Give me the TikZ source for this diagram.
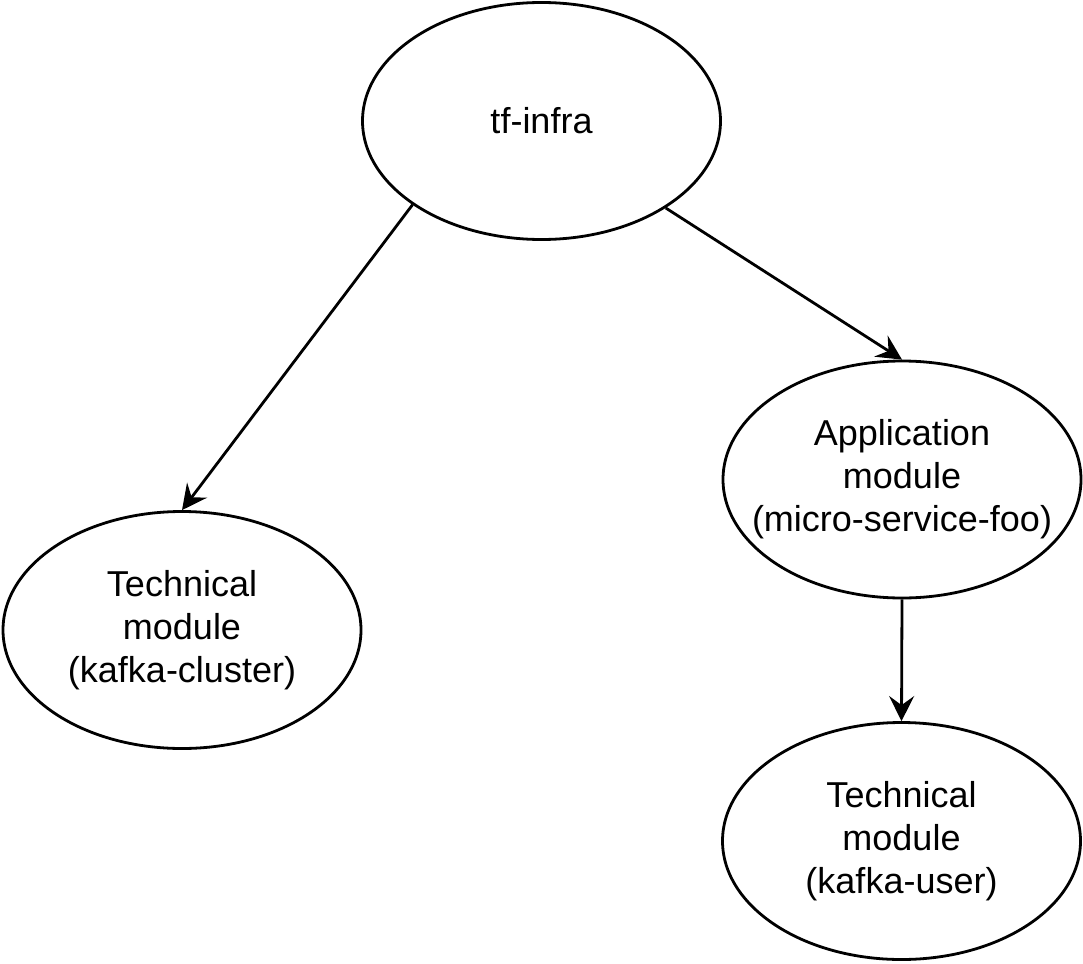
\documentclass[tikz,border=0pt]{standalone}
\usepackage{fontspec}
\setmainfont{Liberation Sans}
\usetikzlibrary{shapes.geometric,arrows.meta}
\begin{document}
\begin{tikzpicture}[x=1pt,y=-1pt,
  bubble/.style={ellipse, draw=black, line width=2.8pt, minimum width=358pt, minimum height=237pt, inner xsep=-30pt, inner ysep=0pt, align=center, font=\fontsize{36}{43}\selectfont},
  link/.style={line width=2.8pt, -{Stealth[length=25pt,width=25pt,inset=9pt]}}
]
\useasboundingbox (0,0) rectangle (1083,963);
\node[bubble] (infra) at (541.5,121) {tf-infra};
\node[bubble] (cluster) at (182,630) {Technical\\module\\(kafka-cluster)};
\node[bubble] (app) at (902,479.5) {Application\\module\\(micro-service-foo)};
\node[bubble] (user) at (901.5,841) {Technical\\module\\(kafka-user)};
\draw[link] (infra.213.9) -- (cluster.north);
\draw[link] (infra.325.6) -- (app.north);
\draw[link] (app.south) -- (user.north);
\end{tikzpicture}
\end{document}
